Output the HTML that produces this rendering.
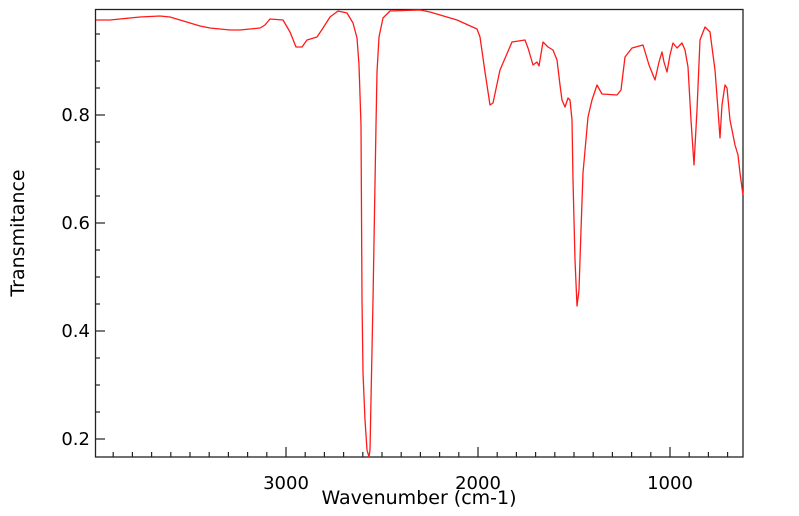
<!DOCTYPE html>
<html><head><meta charset="utf-8"><style>
html,body{margin:0;padding:0;background:#fff}
svg{display:block}
text{font-family:"DejaVu Sans","Liberation Sans",sans-serif;fill:#000}
</style></head><body>
<svg width="799" height="516" viewBox="0 0 799 516" xmlns="http://www.w3.org/2000/svg">
<rect x="0" y="0" width="799" height="516" fill="#fff"/>
<g stroke="#222" stroke-width="1.3" fill="none">
<rect x="95.5" y="9.5" width="647.5" height="447.5"/>
</g>
<g stroke="#222" stroke-width="1.2" id="xt"></g>
<g stroke="#222" stroke-width="1.2" id="yt"></g>
<polyline fill="none" stroke="#ff1a1a" stroke-width="1.3" stroke-linejoin="round" points="
96,20 110,20 120,19 130,18 140,17 150,16.5 160,16 170,17 180,20 190,23 200,26 210,28 220,29 230,30 240,30 250,29 260,28 265,25 270,19 283,20 290,32 296,47 302,47 307,40 317,37 323,28 330,17 338,11 347,13 353,23 357,38 359,65 361,125 362,300 363,373 365,420 367,450 369,457 370,450 371,400 373,300 376,125 377,72 379,37 383,18 390,11 420,10 430,12 457,20 477,29 480,37 485,72 490,105 493,103 500,70 512,42 525,40 528,48 533,65 537,62 539,66 543,42 548,47 553,50 557,60 560,85 562,100 565,107 568,98 570,100 572,120 573,180 575,260 577,306 579,290 581,230 583,173 588,117 592,100 597,85 602,94 617,95 621,90 625,57 632,48 643,45 649,65 655,80 659,62 662,52 664,62 667,72 670,55 673,43 677,48 682,43 685,50 688,67 691,120 694,165 697,110 700,40 705,27 710,32 715,70 718,110 720,138 722,105 725,85 727,88 730,120 735,145 738,155 740,173 743,195"/>
<g font-size="18" text-anchor="middle">
<text x="286" y="489">3000</text>
<text x="478" y="489">2000</text>
<text x="670" y="489">1000</text>
</g>
<text x="419" y="504" font-size="19" text-anchor="middle">Wavenumber (cm-1)</text>
<g font-size="18" text-anchor="end">
<text x="90" y="121">0.8</text>
<text x="90" y="229">0.6</text>
<text x="90" y="337">0.4</text>
<text x="90" y="445">0.2</text>
</g>
<text font-size="19" text-anchor="middle" transform="translate(24,233) rotate(-90)">Transmitance</text>
<script>
var ns="http://www.w3.org/2000/svg";
var xt=document.getElementById("xt");
for(var w=3900;w>=700;w-=100){var x=286+(3000-w)*0.192;var L=(w%1000==0)?10:5;
var l=document.createElementNS(ns,"line");l.setAttribute("x1",x);l.setAttribute("x2",x);l.setAttribute("y1",457);l.setAttribute("y2",457-L);xt.appendChild(l);}
var yt=document.getElementById("yt");
for(var i=0;i<17;i++){var v=0.2+i*0.05;var y=439-(v-0.2)*540;if(y<12)break;var L=(i%4==0)?10:5;
var l=document.createElementNS(ns,"line");l.setAttribute("x1",95);l.setAttribute("x2",95+L);l.setAttribute("y1",y);l.setAttribute("y2",y);yt.appendChild(l);}
</script>
</svg>
</body></html>
